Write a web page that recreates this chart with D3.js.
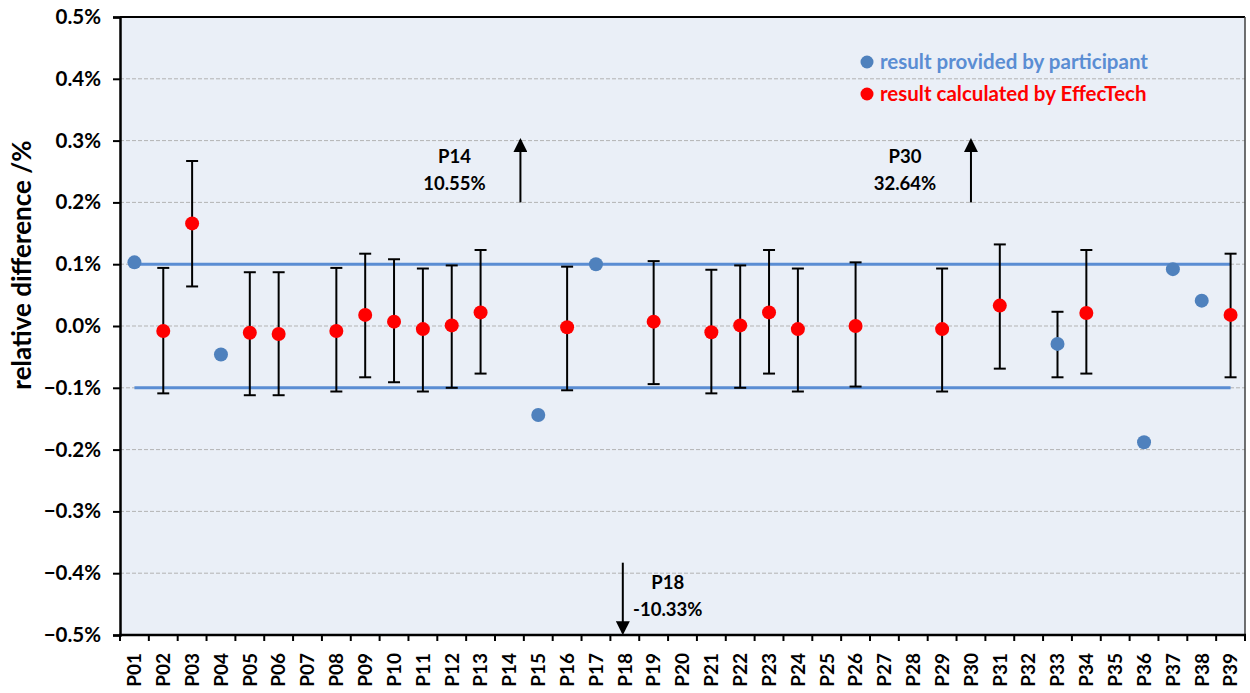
<!DOCTYPE html>
<html>
<head>
<meta charset="utf-8">
<script src="https://cdn.jsdelivr.net/npm/d3@7"></script>
<style>
  body { margin: 0; background: #fff; }
  svg text { font-family: Lato, "Open Sans", sans-serif; font-weight: bold; }
</style>
</head>
<body>
<svg id="chart" width="1250" height="693"></svg>
<script>
// categories on the x axis
let categories = ["P01","P02","P03","P04","P05","P06","P07","P08","P09","P10",
    "P11","P12","P13","P14","P15","P16","P17","P18","P19","P20",
    "P21","P22","P23","P24","P25","P26","P27","P28","P29","P30",
    "P31","P32","P33","P34","P35","P36","P37","P38","P39"];

let yTicks = [0.5, 0.4, 0.3, 0.2, 0.1, 0.0, -0.1, -0.2, -0.3, -0.4, -0.5];

// result provided by participant (relative difference, %)
let participantCats = ["P01","P04","P15","P17","P33","P36","P37","P38"];
let participantVals = [0.103, -0.046, -0.144, 0.100, -0.029, -0.188, 0.092, 0.041];

// result calculated by EffecTech (relative difference, %)
let calcCats = ["P02","P03","P05","P06","P08","P09","P10","P11","P12","P13","P16",
    "P19","P21","P22","P23","P24","P26","P29","P31","P34","P39"];
let calcVals = [-0.008, 0.166, -0.011, -0.013, -0.008, 0.018, 0.007, -0.005, 0.001, 0.022, -0.002,
    0.007, -0.010, 0.001, 0.022, -0.005, 0.000, -0.005, 0.033, 0.021, 0.018];

// uncertainty bars
let barCats = ["P02","P03","P05","P06","P08","P09","P10","P11","P12","P13","P16",
    "P19","P21","P22","P23","P24","P26","P29","P31","P33","P34","P39"];
let barHigh = [0.094, 0.267, 0.087, 0.087, 0.094, 0.117, 0.108, 0.093, 0.098, 0.123, 0.096,
    0.105, 0.091, 0.098, 0.123, 0.093, 0.103, 0.093, 0.132, 0.023, 0.123, 0.117];
let barLow = [-0.109, 0.064, -0.112, -0.112, -0.106, -0.083, -0.091, -0.106, -0.100, -0.077, -0.104,
    -0.094, -0.109, -0.100, -0.077, -0.106, -0.098, -0.106, -0.069, -0.083, -0.077, -0.083];

// acceptance limits
let limitVals = [0.1, -0.1];

// off-scale results, shown as arrows
let outlierCats = ["P14", "P30", "P18"];
let outlierLabels = ["10.55%", "32.64%", "-10.33%"];
let outlierFrom = [0.2, 0.2, -0.383];
let outlierTo = [0.301, 0.301, -0.497];

let legendLabels = ["result provided by participant", "result calculated by EffecTech"];

let blue = "#4f81bd",
    lineBlue = "#5a8dd3",
    red = "#ff0000";

let svg = d3.select("#chart");
let plotL = 120, plotR = 1245, plotT = 17, plotB = 635;

let x = d3.scaleBand().domain(categories).range([plotL, plotR]).padding(0);
let cx = function(c) { return x(c) + x.bandwidth() / 2; };
let y = d3.scaleLinear().domain([-0.5, 0.5]).range([plotB, plotT]);

// plot background
svg.append("rect")
    .attr("x", plotL).attr("y", plotT)
    .attr("width", plotR - plotL).attr("height", plotB - plotT)
    .attr("fill", "#eaeff7");

// grid lines
svg.append("g")
    .selectAll("line")
    .data(yTicks.filter(d => d > -0.5 && d < 0.5))
    .enter().append("line")
    .attr("x1", plotL).attr("x2", plotR)
    .attr("y1", d => y(d)).attr("y2", d => y(d))
    .attr("stroke", "#b3b3b3")
    .attr("stroke-width", 1)
    .attr("stroke-dasharray", "4,2");

// frame
svg.append("line")
    .attr("x1", plotL).attr("x2", plotR).attr("y1", plotT).attr("y2", plotT)
    .attr("stroke", "#000").attr("stroke-width", 2);
svg.append("line")
    .attr("x1", plotR).attr("x2", plotR).attr("y1", plotT).attr("y2", plotB)
    .attr("stroke", "#404040").attr("stroke-width", 1.5);

// y axis
let yAxis = svg.append("g")
    .attr("transform", "translate(" + plotL + ",0)")
    .call(d3.axisLeft(y).tickValues(yTicks).tickSize(7).tickPadding(12)
        .tickFormat(d => d3.format(".1f")(d) + "%"));
yAxis.select(".domain").attr("stroke", "#000").attr("stroke-width", 2.5);
yAxis.selectAll(".tick line").attr("stroke", "#000").attr("stroke-width", 2);
yAxis.selectAll(".tick text")
    .attr("font-size", 20.5)
    .attr("fill", "#000");

// x axis: ticks sit between categories
let xAxis = svg.append("g")
    .attr("transform", "translate(0," + plotB + ")");
xAxis.append("line")
    .attr("x1", plotL - 1).attr("x2", plotR + 1)
    .attr("stroke", "#000").attr("stroke-width", 2.5);
xAxis.selectAll("line.tick")
    .data(categories.concat(["end"]))
    .enter().append("line")
    .attr("class", "tick")
    .attr("x1", (d, i) => plotL + i * x.bandwidth())
    .attr("x2", (d, i) => plotL + i * x.bandwidth())
    .attr("y1", 0).attr("y2", 6)
    .attr("stroke", "#000").attr("stroke-width", 2);
xAxis.selectAll("text")
    .data(categories)
    .enter().append("text")
    .attr("transform", d => "translate(" + cx(d) + ",18) rotate(-90)")
    .attr("text-anchor", "end")
    .attr("dy", "0.36em")
    .attr("font-size", 19)
    .text(d => d);

// y axis title
svg.append("text")
    .attr("transform", "translate(31,265) rotate(-90)")
    .attr("text-anchor", "middle")
    .attr("font-size", 26)
    .text("relative difference /%");

// acceptance limit lines
let limitLine = d3.line()
    .x(d => cx(d.cat))
    .y(d => y(d.v));
svg.append("g")
    .selectAll("path")
    .data(limitVals.map(v => [categories[0], categories[categories.length - 1]].map(c => ({ cat: c, v: v }))))
    .enter().append("path")
    .attr("d", limitLine)
    .attr("stroke", lineBlue)
    .attr("stroke-width", 3)
    .attr("fill", "none");

// error bars
let bars = barCats.map((c, i) => ({ cat: c, hi: barHigh[i], lo: barLow[i] }));
let eb = svg.append("g")
    .attr("stroke", "#000")
    .attr("stroke-width", 2);
eb.selectAll("line.stem")
    .data(bars).enter().append("line")
    .attr("x1", d => cx(d.cat)).attr("x2", d => cx(d.cat))
    .attr("y1", d => y(d.hi)).attr("y2", d => y(d.lo));
eb.selectAll("line.cap-hi")
    .data(bars).enter().append("line")
    .attr("x1", d => cx(d.cat) - 6).attr("x2", d => cx(d.cat) + 6)
    .attr("y1", d => y(d.hi)).attr("y2", d => y(d.hi));
eb.selectAll("line.cap-lo")
    .data(bars).enter().append("line")
    .attr("x1", d => cx(d.cat) - 6).attr("x2", d => cx(d.cat) + 6)
    .attr("y1", d => y(d.lo)).attr("y2", d => y(d.lo));

// participant points
svg.append("g")
    .selectAll("circle")
    .data(participantCats.map((c, i) => ({ cat: c, v: participantVals[i] })))
    .enter().append("circle")
    .attr("cx", d => cx(d.cat))
    .attr("cy", d => y(d.v))
    .attr("r", 7)
    .attr("fill", blue);

// calculated points
svg.append("g")
    .selectAll("circle")
    .data(calcCats.map((c, i) => ({ cat: c, v: calcVals[i] })))
    .enter().append("circle")
    .attr("cx", d => cx(d.cat))
    .attr("cy", d => y(d.v))
    .attr("r", 7)
    .attr("fill", red);

// off-scale arrows and labels
let defs = svg.append("defs");
defs.append("marker")
    .attr("id", "head")
    .attr("viewBox", "0 0 14 14")
    .attr("refX", 12).attr("refY", 7)
    .attr("markerWidth", 14).attr("markerHeight", 14)
    .attr("markerUnits", "userSpaceOnUse")
    .attr("orient", "auto")
    .append("path")
    .attr("d", "M0,0 L14,7 L0,14 Z")
    .attr("fill", "#000");

let arrowShift = [11, 0, -2];   // small nudge of each arrow off its category centre
let outliers = outlierCats.map((c, i) => ({
    cat: c, label: outlierLabels[i], from: outlierFrom[i], to: outlierTo[i], dx: arrowShift[i]
}));
let og = svg.append("g");
og.selectAll("line")
    .data(outliers).enter().append("line")
    .attr("x1", d => cx(d.cat) + d.dx).attr("x2", d => cx(d.cat) + d.dx)
    .attr("y1", d => y(d.from)).attr("y2", d => y(d.to))
    .attr("stroke", "#000").attr("stroke-width", 2)
    .attr("marker-end", "url(#head)");

outliers.forEach(function(d) {
    let ax = cx(d.cat) + d.dx;
    let up = d.to > d.from;
    let tx = up ? ax - 66 : ax + 45;
    let t = og.append("text")
        .attr("text-anchor", "middle")
        .attr("font-size", 18.5)
        .attr("fill", "#000");
    t.append("tspan")
        .attr("x", tx)
        .attr("y", up ? y(d.to) + 23 : y(d.from) + 26)
        .text(d.cat);
    t.append("tspan")
        .attr("x", tx)
        .attr("dy", 27)
        .text(d.label);
});

// legend
let legend = svg.append("g")
    .attr("transform", "translate(867,62)");
let lg = legend.selectAll("g")
    .data(legendLabels).enter().append("g")
    .attr("transform", (d, i) => "translate(0," + (i * 32) + ")");
lg.append("circle")
    .attr("r", 6.5)
    .attr("fill", (d, i) => i === 0 ? blue : red);
lg.append("text")
    .attr("x", 13)
    .attr("y", 6.5)
    .attr("font-size", 20.5)
    .attr("fill", (d, i) => i === 0 ? lineBlue : red)
    .text(d => d);
</script>
</body>
</html>
